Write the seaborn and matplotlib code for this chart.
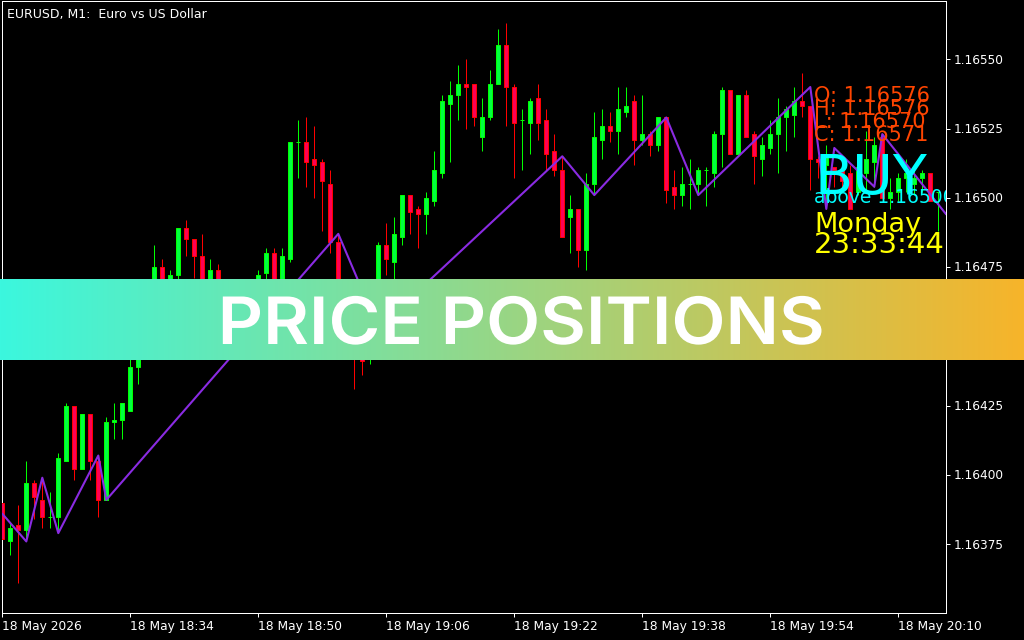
import numpy as np
import pandas as pd
import matplotlib
matplotlib.use("Agg")
import matplotlib.pyplot as plt
import matplotlib.patheffects as pe
from matplotlib.transforms import Affine2D, ScaledTranslation
import seaborn as sns

bars = list(range(118))
opens = [1.16390,1.16376,1.16382,1.16380,1.16397,1.16391,1.16385,1.16385,1.16405,1.16425,
1.16402,1.16422,1.16405,1.16391,1.16419,1.16420,1.16423,1.16439,1.16451,1.16463,
1.16475,1.16465,1.16472,1.16489,1.16485,1.16479,1.16468,1.16474,1.16466,1.16461,
1.16465,1.16468,1.16466,1.16473,1.16480,1.16468,1.16478,1.16520,1.16520,1.16514,
1.16513,1.16505,1.16484,1.16465,1.16455,1.16447,1.16443,1.16452,1.16483,1.16477,
1.16486,1.16501,1.16496,1.16494,1.16499,1.16509,1.16534,1.16537,1.16541,1.16541,
1.16522,1.16529,1.16541,1.16555,1.16540,1.16528,1.16527,1.16536,1.16528,1.16517,
1.16510,1.16493,1.16496,1.16481,1.16505,1.16521,1.16526,1.16524,1.16531,1.16535,
1.16521,1.16523,1.16519,1.16529,1.16504,1.16501,1.16505,1.16505,1.16510,1.16509,
1.16523,1.16539,1.16516,1.16537,1.16523,1.16514,1.16518,1.16523,1.16529,1.16530,
1.16535,1.16533,1.16514,1.16512,1.16511,1.16510,1.16509,1.16502,1.16509,1.16513,
1.16522,1.16500,1.16502,1.16507,1.16505,1.16507,1.16509,1.16502]
highs = [1.16390,1.16383,1.16389,1.16405,1.16398,1.16399,1.16394,1.16408,1.16426,1.16425,
1.16422,1.16422,1.16407,1.16421,1.16426,1.16426,1.16443,1.16453,1.16464,1.16483,
1.16478,1.16474,1.16489,1.16492,1.16485,1.16487,1.16478,1.16476,1.16468,1.16467,
1.16469,1.16469,1.16474,1.16482,1.16482,1.16482,1.16520,1.16528,1.16529,1.16526,
1.16514,1.16510,1.16487,1.16468,1.16458,1.16450,1.16455,1.16484,1.16491,1.16493,
1.16501,1.16501,1.16497,1.16502,1.16517,1.16537,1.16542,1.16548,1.16550,1.16541,
1.16536,1.16546,1.16561,1.16563,1.16541,1.16532,1.16536,1.16541,1.16532,1.16523,
1.16515,1.16501,1.16496,1.16509,1.16531,1.16532,1.16531,1.16540,1.16540,1.16537,
1.16537,1.16524,1.16529,1.16529,1.16510,1.16511,1.16514,1.16511,1.16511,1.16524,
1.16540,1.16539,1.16537,1.16539,1.16524,1.16522,1.16528,1.16536,1.16533,1.16540,
1.16545,1.16533,1.16515,1.16519,1.16511,1.16514,1.16512,1.16514,1.16524,1.16522,
1.16523,1.16507,1.16509,1.16514,1.16511,1.16510,1.16509,1.16502]
lows = [1.16377,1.16371,1.16361,1.16376,1.16384,1.16381,1.16381,1.16379,1.16405,1.16398,
1.16402,1.16398,1.16385,1.16391,1.16413,1.16413,1.16423,1.16433,1.16449,1.16460,
1.16461,1.16462,1.16468,1.16479,1.16471,1.16463,1.16464,1.16462,1.16458,1.16458,
1.16463,1.16463,1.16463,1.16468,1.16465,1.16466,1.16477,1.16507,1.16504,1.16500,
1.16488,1.16480,1.16455,1.16450,1.16431,1.16436,1.16440,1.16450,1.16472,1.16468,
1.16483,1.16487,1.16482,1.16487,1.16497,1.16507,1.16513,1.16528,1.16525,1.16526,
1.16517,1.16528,1.16541,1.16526,1.16507,1.16510,1.16516,1.16521,1.16510,1.16508,
1.16486,1.16480,1.16475,1.16474,1.16501,1.16514,1.16520,1.16516,1.16529,1.16512,
1.16519,1.16515,1.16517,1.16498,1.16496,1.16497,1.16496,1.16501,1.16497,1.16504,
1.16511,1.16516,1.16516,1.16522,1.16505,1.16508,1.16516,1.16509,1.16517,1.16522,
1.16529,1.16503,1.16507,1.16497,1.16504,1.16503,1.16496,1.16501,1.16502,1.16504,
1.16500,1.16496,1.16499,1.16502,1.16501,1.16502,1.16499,1.16488]
closes = [1.16377,1.16381,1.16380,1.16397,1.16392,1.16385,1.16385,1.16406,1.16425,1.16402,
1.16422,1.16405,1.16391,1.16419,1.16420,1.16426,1.16439,1.16451,1.16462,1.16475,
1.16465,1.16472,1.16489,1.16485,1.16479,1.16468,1.16474,1.16466,1.16461,1.16465,
1.16468,1.16466,1.16472,1.16480,1.16468,1.16479,1.16520,1.16520,1.16513,1.16512,
1.16506,1.16484,1.16465,1.16455,1.16444,1.16441,1.16452,1.16483,1.16478,1.16487,
1.16501,1.16495,1.16494,1.16500,1.16510,1.16535,1.16537,1.16541,1.16540,1.16529,
1.16529,1.16541,1.16555,1.16540,1.16527,1.16528,1.16535,1.16527,1.16516,1.16510,
1.16486,1.16496,1.16481,1.16505,1.16522,1.16526,1.16524,1.16532,1.16533,1.16521,
1.16523,1.16519,1.16529,1.16503,1.16501,1.16505,1.16505,1.16510,1.16510,1.16523,
1.16539,1.16516,1.16537,1.16522,1.16515,1.16519,1.16523,1.16529,1.16532,1.16535,
1.16533,1.16514,1.16513,1.16515,1.16510,1.16506,1.16496,1.16511,1.16514,1.16519,
1.16500,1.16502,1.16507,1.16509,1.16507,1.16509,1.16499,1.16502]

zigzag_bars = [0,3,5,7,12,13,42,47,70,74,83,87,101,103,104,109,110,118]
zigzag_prices = [1.16386,1.16376,1.16399,1.16379,1.16407,1.16391,1.16487,1.16453,1.16515,
                 1.16501,1.16529,1.16501,1.16540,1.16496,1.16518,1.16504,1.16523,1.16494]

y_ticks = [1.16375,1.16400,1.16425,1.16450,1.16475,1.16500,1.16525,1.16550]
x_tick_bars = [0,16,32,48,64,80,96,112]
x_tick_labels = ["18 May 2026","18 May 18:34","18 May 18:50","18 May 19:06",
                 "18 May 19:22","18 May 19:38","18 May 19:54","18 May 20:10"]

ohlc_labels = ["O: 1.16576","H: 1.16576","L: 1.16570","C: 1.16571"]
chart_title = "EURUSD, M1:  Euro vs US Dollar"
signal = "BUY"
signal_note = "above 1.16500"
day_label = "Monday"
time_label = "23:33:44"
banner_title = "PRICE POSITIONS"

W, H = 1024, 640
sns.set_theme(style="dark", rc={
    "figure.facecolor": "black", "axes.facecolor": "black",
    "axes.edgecolor": "white", "axes.linewidth": 0.72,
    "xtick.color": "white", "ytick.color": "white",
    "xtick.bottom": True, "ytick.right": True, "ytick.left": False,
    "font.family": "DejaVu Sans", "axes.grid": False,
})

fig = plt.figure(figsize=(W / 100, H / 100), dpi=100)
ax = fig.add_axes([2.3 / W, 1 - 613.3 / H, 944 / W, 612 / H])

df = pd.DataFrame({"bar": bars, "open": opens, "high": highs, "low": lows, "close": closes})
df["up"] = df["close"] >= df["open"]
df["base"] = df[["open", "close"]].min(axis=1)
df["body"] = (df["close"] - df["open"]).abs()

styles = {True: ("#00FF00", "#00FF40"), False: ("#FF0000", "#FF0055")}
for is_up, (edge, fill) in styles.items():
    sub = df[df["up"] == is_up].sort_values("bar")
    ax.vlines(sub["bar"], sub["low"], sub["high"], color=edge, lw=0.72,
              snap=True, zorder=2)
    sns.barplot(data=sub, x="bar", y="body", bottom=sub["base"].to_numpy(),
                native_scale=True, width=0.5, color=fill, saturation=1,
                edgecolor=edge, linewidth=0.72, errorbar=None, ax=ax, zorder=3)

zz = pd.DataFrame({"bar": zigzag_bars, "price": zigzag_prices})
sns.lineplot(data=zz, x="bar", y="price", estimator=None, sort=False,
             color="#8A2BE2", lw=1.5, ax=ax, zorder=4)

ax.set_xlim(0, 118)
ax.set_ylim(1.1635007, 1.1657093)
ax.set_xlabel("")
ax.set_ylabel("")
ax.set_xticks(x_tick_bars)
ax.set_xticklabels(x_tick_labels, ha="left", fontsize=8.8)
ax.set_yticks(y_ticks)
ax.set_yticklabels([f"{v:.5f}" for v in y_ticks], fontsize=8.7)
ax.yaxis.tick_right()
ax.tick_params(axis="x", length=3, width=0.72, pad=2)
ax.tick_params(axis="y", length=3, width=0.72, pad=2)
for s in ax.spines.values():
    s.set_visible(True)
    s.set_color("white")
    s.set_linewidth(0.72)
up_shift = ScaledTranslation(0, 0.7 / 100, fig.dpi_scale_trans)
for lbl in ax.get_yticklabels():
    lbl.set_transform(lbl.get_transform() + up_shift)


def label(px, py, txt, color, size):
    ax.text(px / W, 1 - py / H, txt, color=color, fontsize=size, transform=fig.transFigure,
            ha="left", va="baseline", clip_on=True, zorder=6)


label(7, 18, chart_title, "white", 9)
for txt, base in zip(ohlc_labels, [102, 115, 128, 141]):
    label(814, base, txt, "#FF4500", 15)
label(814, 194, signal, "#00FFFF", 40)
label(814, 203, signal_note, "#00FFFF", 13.5)
label(814, 232, day_label, "#FFFF00", 19.5)
label(814, 253, time_label, "#FFFF00", 21)

banner = fig.add_axes([0, 1 - 360.5 / H, 1, 81 / H], zorder=10)
left_rgb = np.array([59, 247, 222]) / 255
right_rgb = np.array([247, 180, 42]) / 255
t = np.linspace(0, 1, W)[None, :, None]
banner.imshow(left_rgb[None, None, :] * (1 - t) + right_rgb[None, None, :] * t,
              aspect="auto", extent=(0, 1, 0, 1))
banner.axis("off")


class WidenText(pe.AbstractPathEffect):
    """Stretch the glyph outlines sideways about a pixel column."""

    def __init__(self, factor, centre):
        super().__init__()
        self.factor, self.centre = factor, centre

    def draw_path(self, renderer, gc, tpath, affine, rgbFace=None):
        widen = Affine2D().translate(-self.centre, 0).scale(self.factor, 1).translate(self.centre, 0)
        renderer.draw_path(gc, tpath, affine + widen, rgbFace)


fig.text(521 / W, 1 - 344 / H, banner_title, color="white", fontsize=47,
         family="Inter", weight="semibold", ha="center", va="baseline", zorder=20,
         path_effects=[WidenText(606 / 562, 521)])

fig.savefig("out.png", dpi=100, facecolor="black")
